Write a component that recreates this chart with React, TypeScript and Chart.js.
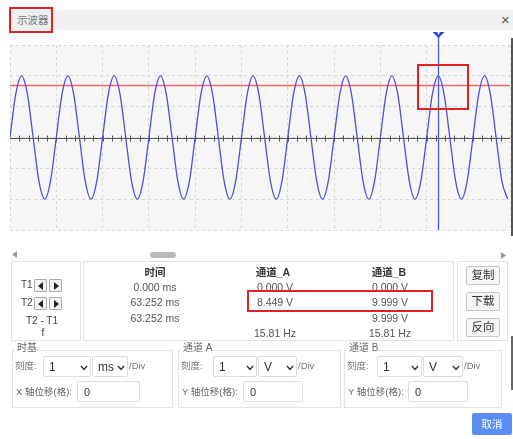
import React, { useEffect, useRef } from "react";
import { Chart, registerables } from "chart.js";

Chart.register(...registerables);

// ---- data (grid divisions on x, volts on y) ----
const xDivisions = 10.8;
const yLimitV = 15;
const voltsPerDiv = 5;
const sampleStepDiv = 0.125;
const channelBTrace = [
  0, 7.07, 9.999, 7.07, 0, -7.07, -9.999, -7.07,
  0, 7.07, 9.999, 7.07, 0, -7.07, -9.999, -7.07,
  0, 7.07, 9.999, 7.07, 0, -7.07, -9.999, -7.07,
  0, 7.07, 9.999, 7.07, 0, -7.07, -9.999, -7.07,
  0, 7.07, 9.999, 7.07, 0, -7.07, -9.999, -7.07,
  0, 7.07, 9.999, 7.07, 0, -7.07, -9.999, -7.07,
  0, 7.07, 9.999, 7.07, 0, -7.07, -9.999, -7.07,
  0, 7.07, 9.999, 7.07, 0, -7.07, -9.999, -7.07,
  0, 7.07, 9.999, 7.07, 0, -7.07, -9.999, -7.07,
  0, 7.07, 9.999, 7.07, 0, -7.07, -9.999, -7.07,
  0, 7.07, 9.999, 7.07, 0, -7.07, -9.999,
];
const channelALevel = 8.449;
const cursorT2Div = 9.25;

const timeRows = ["0.000 ms", "63.252 ms", "63.252 ms", ""];
const chARows = ["0.000 V", "8.449 V", "", "15.81 Hz"];
const chBRows = ["0.000 V", "9.999 V", "9.999 V", "15.81 Hz"];
const cursorLabels = ["T1", "T2"];
const actionButtons = ["复制", "下载", "反向"];

const FONT = '"Liberation Sans", "Noto Sans CJK SC", Arial, sans-serif';

const bgPlugin = {
  id: "bgPlugin",
  beforeDraw(chart: any) {
    const { ctx, chartArea } = chart;
    ctx.save();
    ctx.fillStyle = "#f6f6f6";
    ctx.fillRect(chartArea.left, chartArea.top, chartArea.right - chartArea.left, chartArea.bottom - chartArea.top);
    ctx.restore();
  },
};

const axisPlugin = {
  id: "axisPlugin",
  beforeDatasetsDraw(chart: any) {
    const { ctx, chartArea, scales } = chart;
    const y0 = Math.round(scales.y.getPixelForValue(0)) + 0.5;
    ctx.save();
    ctx.strokeStyle = "#555";
    ctx.lineWidth = 1.2;
    ctx.beginPath();
    ctx.moveTo(chartArea.left, y0);
    ctx.lineTo(chartArea.right, y0);
    ctx.stroke();
    ctx.lineWidth = 1;
    ctx.beginPath();
    for (let i = 1; i * 0.2 < xDivisions; i++) {
      const px = Math.round(scales.x.getPixelForValue(i * 0.2)) + 0.5;
      ctx.moveTo(px, y0 - 3);
      ctx.lineTo(px, y0 + 3);
    }
    ctx.stroke();
    ctx.restore();
  },
};

const cursorPlugin = {
  id: "cursorPlugin",
  afterDatasetsDraw(chart: any) {
    const { ctx, chartArea, scales } = chart;
    const px = Math.round(scales.x.getPixelForValue(cursorT2Div)) + 0.5;
    const topY = chartArea.top - 8;
    ctx.save();
    ctx.strokeStyle = "#4b5fe3";
    ctx.lineWidth = 1.3;
    ctx.beginPath();
    ctx.moveTo(px, topY);
    ctx.lineTo(px, chartArea.bottom);
    ctx.stroke();
    ctx.fillStyle = "#2c44d8";
    ctx.beginPath();
    ctx.moveTo(px - 6, topY - 5);
    ctx.lineTo(px + 6, topY - 5);
    ctx.lineTo(px, topY + 1);
    ctx.closePath();
    ctx.fill();
    ctx.fillStyle = "#ffffff";
    ctx.beginPath();
    ctx.moveTo(px - 1.5, topY - 5);
    ctx.lineTo(px + 1.5, topY - 5);
    ctx.lineTo(px, topY - 2);
    ctx.closePath();
    ctx.fill();
    ctx.restore();
  },
};

function Scope() {
  const ref = useRef<HTMLCanvasElement | null>(null);
  useEffect(() => {
    if (!ref.current) return;
    const chart = new Chart(ref.current, {
      type: "line",
      data: {
        datasets: [
          {
            data: channelBTrace.map((v, i) => ({ x: i * sampleStepDiv, y: v })),
            borderColor: "#4d4fd6",
            borderWidth: 1.3,
            pointRadius: 0,
            cubicInterpolationMode: "monotone",
          },
          {
            data: [
              { x: 0, y: channelALevel },
              { x: xDivisions, y: channelALevel },
            ],
            borderColor: "#f06a6a",
            borderWidth: 1.5,
            pointRadius: 0,
          },
        ],
      },
      options: {
        animation: false,
        responsive: false,
        maintainAspectRatio: false,
        layout: { padding: { left: 2, right: 3, top: 13, bottom: 10 } },
        plugins: { legend: { display: false }, tooltip: { enabled: false } },
        scales: {
          x: {
            type: "linear",
            min: 0,
            max: xDivisions,
            ticks: { display: false, stepSize: 1 },
            grid: { color: "#d6d6d6", drawTicks: false, lineWidth: 1 },
            border: { display: false, dash: [3, 3] },
          },
          y: {
            type: "linear",
            min: -yLimitV,
            max: yLimitV,
            ticks: { display: false, stepSize: voltsPerDiv },
            grid: { color: "#d6d6d6", drawTicks: false, lineWidth: 1 },
            border: { display: false, dash: [3, 3] },
          },
        },
      } as any,
      plugins: [bgPlugin, axisPlugin, cursorPlugin],
    });
    return () => chart.destroy();
  }, []);
  return (
    <canvas
      ref={ref}
      width={505}
      height={208}
      style={{ position: "absolute", left: 8, top: 32, width: 505, height: 208 }}
    />
  );
}

function T(props: { x: number; y: number; w?: number; align?: any; size?: number; color?: string; bold?: boolean; children: any }) {
  const w = props.w ?? 100;
  const align = props.align ?? "left";
  const left = align === "center" ? props.x - w / 2 : props.x;
  return (
    <div
      style={{
        position: "absolute",
        left,
        top: props.y - 8,
        width: w,
        height: 16,
        lineHeight: "16px",
        textAlign: align,
        fontSize: props.size ?? 11,
        color: props.color ?? "#555",
        fontWeight: props.bold ? 700 : 400,
        whiteSpace: "nowrap",
      }}
    >
      {props.children}
    </div>
  );
}

function Box(props: { x: number; y: number; w: number; h: number; style?: any; children?: any }) {
  return (
    <div
      style={{
        position: "absolute",
        left: props.x,
        top: props.y,
        width: props.w,
        height: props.h,
        boxSizing: "border-box",
        ...props.style,
      }}
    >
      {props.children}
    </div>
  );
}

function Chevron(props: { x: number; y: number }) {
  return (
    <svg style={{ position: "absolute", left: props.x, top: props.y }} width={8} height={6}>
      <polyline points="1,1 4,4.5 7,1" fill="none" stroke="#333" strokeWidth={1.4} />
    </svg>
  );
}

function Select(props: { x: number; w: number; y: number; text: string }) {
  return (
    <Box x={props.x} y={props.y} w={props.w} h={21} style={{ border: "1px solid #dcdcdc", borderRadius: 2, background: "#fff" }}>
      <div style={{ position: "absolute", left: 5, top: 2, fontSize: 12, color: "#333", lineHeight: "16px" }}>{props.text}</div>
      <Chevron x={props.w - 12} y={8} />
    </Box>
  );
}

function Input(props: { x: number; w: number; y: number; text: string }) {
  return (
    <Box x={props.x} y={props.y} w={props.w} h={21} style={{ border: "1px solid #dcdcdc", borderRadius: 2, background: "#fff" }}>
      <div style={{ position: "absolute", left: 6, top: 2, fontSize: 11, color: "#333", lineHeight: "16px" }}>{props.text}</div>
    </Box>
  );
}

function ArrowBtn(props: { x: number; y: number; dir: "l" | "r" }) {
  return (
    <Box x={props.x} y={props.y} w={13} h={13} style={{ border: "1px solid #aaa", borderRadius: 1, background: "#f4f4f4" }}>
      <svg style={{ position: "absolute", left: 2, top: 2 }} width={8} height={8}>
        {props.dir === "l" ? <polygon points="6,0 1,4 6,8" fill="#222" /> : <polygon points="2,0 7,4 2,8" fill="#222" />}
      </svg>
    </Box>
  );
}

function Group(props: { x: number; w: number; legend: string; legendW: number; sel1: [number, number]; sel2: [number, number]; unit: string; offLabel: string; inp: [number, number] }) {
  const top = 350;
  return (
    <>
      <Box x={props.x} y={top} w={props.w} h={58} style={{ border: "1px solid #e4e4e4", borderTop: "none" }} />
      <Box x={props.x} y={top} w={3} h={1} style={{ background: "#e4e4e4" }} />
      <Box x={props.x + 3 + props.legendW} y={top} w={props.w - 3 - props.legendW} h={1} style={{ background: "#e4e4e4" }} />
      <T x={props.x + 5} y={348} size={10} color="#666">{props.legend}</T>
      <T x={props.x + 3} y={366} size={9.5} color="#777">刻度:</T>
      <Select x={props.sel1[0]} w={props.sel1[1]} y={356} text="1" />
      <Select x={props.sel2[0]} w={props.sel2[1]} y={356} text={props.unit} />
      <T x={props.sel2[0] + props.sel2[1] + 1} y={366} size={9.5} color="#777">/Div</T>
      <T x={props.x + 4} y={392} size={9.5} color="#666">{props.offLabel}</T>
      <Input x={props.inp[0]} w={props.inp[1]} y={381} text="0" />
    </>
  );
}

export default function App() {
  const rowY = [287, 302, 318, 333];
  return (
    <div
      style={{
        position: "absolute",
        left: 0,
        top: 0,
        width: 513,
        height: 439,
        overflow: "hidden",
        background: "#fff",
        fontFamily: FONT,
      }}
    >
      {/* title bar */}
      <Box x={10} y={10} w={503} h={20} style={{ background: "#efefef" }} />
      <T x={17} y={20} size={10.5} color="#777">示波器</T>
      <T x={501} y={20} size={15} color="#555">×</T>
      <Box x={9} y={7} w={44} h={26} style={{ border: "2px solid #e02222" }} />

      <Scope />

      {/* red annotation around peak */}
      <Box x={417} y={64} w={52} h={46} style={{ border: "2.5px solid #e02222" }} />

      {/* page scrollbar edge */}
      <Box x={511} y={38} w={2} h={198} style={{ background: "#555" }} />
      <Box x={511} y={336} w={2} h={54} style={{ background: "#666" }} />

      {/* horizontal scroll row */}
      <svg style={{ position: "absolute", left: 12, top: 251 }} width={6} height={7}>
        <polygon points="5,0 0,3.5 5,7" fill="#999" />
      </svg>
      <Box x={150} y={252} w={26} h={6} style={{ background: "#b8b8b8", borderRadius: 3 }} />
      <svg style={{ position: "absolute", left: 501, top: 252 }} width={6} height={7}>
        <polygon points="0,0 5,3.5 0,7" fill="#999" />
      </svg>

      {/* measurement panels */}
      <Box x={11} y={261} w={70} h={80} style={{ border: "1px solid #e2e2e2" }} />
      <Box x={83} y={261} w={371} h={80} style={{ border: "1px solid #e2e2e2" }} />
      <Box x={457} y={261} w={51} h={80} style={{ border: "1px solid #e2e2e2" }} />

      {cursorLabels.map((c, i) => (
        <React.Fragment key={c}>
          <T x={21} y={285 + i * 18} size={10} color="#444">{c}</T>
          <ArrowBtn x={34} y={279 + i * 18} dir="l" />
          <ArrowBtn x={49} y={279 + i * 18} dir="r" />
        </React.Fragment>
      ))}
      <T x={42} y={321} w={60} align="center" size={10} color="#444">T2 - T1</T>
      <T x={43} y={333} w={20} align="center" size={10} color="#444">f</T>

      <T x={155} y={272} w={80} align="center" size={10.5} bold color="#333">时间</T>
      <T x={273} y={272} w={80} align="center" size={10.5} bold color="#333">通道_A</T>
      <T x={389} y={272} w={80} align="center" size={10.5} bold color="#333">通道_B</T>
      {rowY.map((y, i) => (
        <React.Fragment key={i}>
          <T x={155} y={y} w={90} align="center" size={10.5}>{timeRows[i]}</T>
          <T x={275} y={y} w={90} align="center" size={10.5}>{chARows[i]}</T>
          <T x={390} y={y} w={90} align="center" size={10.5}>{chBRows[i]}</T>
        </React.Fragment>
      ))}
      <Box x={247} y={290} w={186} h={22} style={{ border: "2.5px solid #e02222" }} />

      {actionButtons.map((b, i) => (
        <Box key={b} x={466} y={266 + i * 26} w={34} h={19} style={{ border: "1px solid #c4c4c4", borderRadius: 2, background: "#f5f5f5" }}>
          <div style={{ textAlign: "center", fontSize: 11.5, lineHeight: "17px", color: "#333" }}>{b}</div>
        </Box>
      ))}

      {/* settings groups */}
      <Group x={12} w={161} legend="时基" legendW={20} sel1={[43, 48]} sel2={[92, 36]} unit="ms" offLabel="X 轴位移(格):" inp={[77, 63]} />
      <Group x={178} w={163} legend="通道 A" legendW={30} sel1={[213, 44]} sel2={[258, 39]} unit="V" offLabel="Y 轴位移(格):" inp={[243, 60]} />
      <Group x={344} w={158} legend="通道 B" legendW={30} sel1={[377, 45]} sel2={[423, 40]} unit="V" offLabel="Y 轴位移(格):" inp={[408, 60]} />

      {/* cancel button */}
      <Box x={472} y={413} w={40} h={22} style={{ background: "#5a8ef5", borderRadius: 2 }}>
        <div style={{ textAlign: "center", fontSize: 10.5, lineHeight: "22px", color: "#fff" }}>取消</div>
      </Box>
    </div>
  );
}
